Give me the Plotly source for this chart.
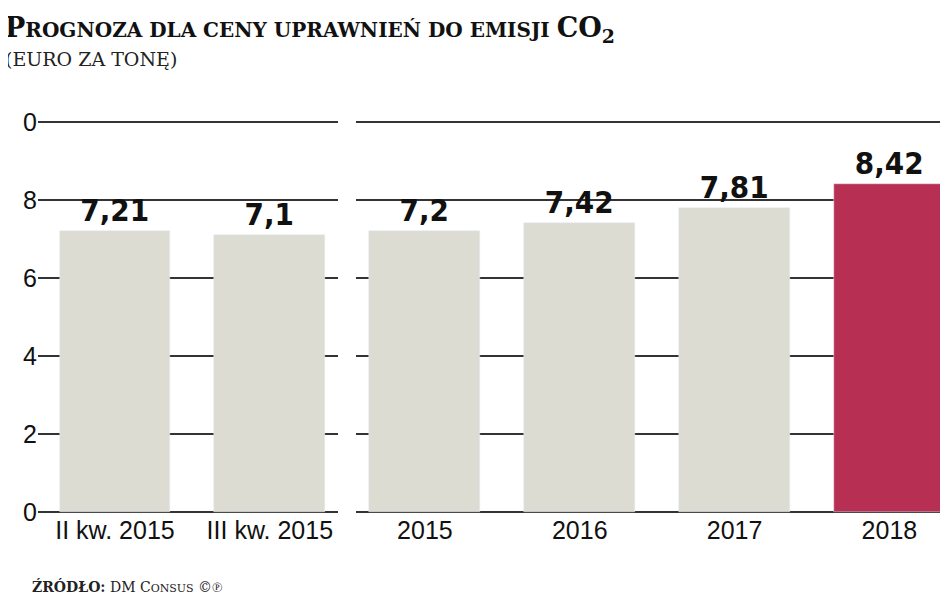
import plotly.graph_objects as go

W, H = 948, 593
cats_q = ["II kw. 2015", "III kw. 2015"]
vals_q = [7.21, 7.1]
cats_y = ["2015", "2016", "2017", "2018"]
vals_y = [7.2, 7.42, 7.81, 8.42]
colors_y = ["#dcdcd2", "#dcdcd2", "#dcdcd2", "#b72f52"]
yticks = [0, 2, 4, 6, 8, 10]

fig = go.Figure()
lblfont = dict(family="DejaVu Sans Condensed, DejaVu Sans", size=31, color="#111")
def fmt(v): return "<b>" + f"{v:g}".replace(".", ",") + "</b>"

fig.add_bar(x=list(range(len(cats_q))), y=vals_q, width=0.716, marker_color="#dcdcd2",
            text=[fmt(v) for v in vals_q], textposition="outside", textfont=lblfont,
            cliponaxis=False, xaxis="x", yaxis="y")
fig.add_bar(x=list(range(len(cats_y))), y=vals_y, width=0.716, marker_color=colors_y,
            text=[fmt(v) for v in vals_y], textposition="outside", textfont=lblfont,
            cliponaxis=False, xaxis="x2", yaxis="y2")

tickfont = dict(family="Liberation Sans Narrow, Liberation Sans", size=25, color="#111")
ydom = [88 / H, 480 / H]
yr = [-0.03, 10.03]
fig.update_layout(
    width=W, height=H, margin=dict(l=0, r=0, t=0, b=0, autoexpand=False),
    paper_bgcolor="white", plot_bgcolor="white", showlegend=False, bargap=0,
    xaxis=dict(domain=[30 / W, 330 / W], range=[-0.497, 1.44], tickvals=list(range(len(cats_q))),
               ticktext=cats_q, tickfont=tickfont, showgrid=False, zeroline=False, ticks="",
               automargin=False),
    xaxis2=dict(domain=[348 / W, 1], range=[-0.445, 3.43], tickvals=list(range(len(cats_y))),
                ticktext=cats_y, tickfont=tickfont, showgrid=False, zeroline=False, ticks="",
                automargin=False),
    yaxis=dict(domain=ydom, range=yr, tickvals=yticks, ticktext=[str(t)[-1] for t in yticks],
               tickfont=tickfont, gridcolor="#333", gridwidth=1.5, zeroline=False, anchor="x",
               automargin=False),
    yaxis2=dict(domain=ydom, range=yr, tickvals=yticks, showticklabels=False,
                gridcolor="#333", gridwidth=1.5, zeroline=False, anchor="x2", automargin=False),
)
serif = "DejaVu Serif"
fig.add_annotation(xref="paper", yref="paper", x=-0.005, y=1 - 2 / H, xanchor="left", yanchor="top",
                   showarrow=False, font=dict(family=serif, size=20, color="#111"),
                   text="<b><span style='font-size:27px'>P</span>ROGNOZA DLA CENY UPRAWNIEŃ DO EMISJI <span style='font-size:27px'>CO<sub>2</sub></span></b>")
fig.add_annotation(xref="paper", yref="paper", x=-0.005, y=1 - 38 / H, xanchor="left", yanchor="top",
                   showarrow=False, font=dict(family=serif, size=19, color="#222"),
                   text="(EURO ZA TONĘ)")
fig.add_annotation(xref="paper", yref="paper", x=22 / W, y=1 - 578 / H, xanchor="left", yanchor="middle",
                   showarrow=False, font=dict(family=serif, size=14, color="#222"),
                   text="<b>ŹRÓDŁO:</b> DM C<span style='font-size:11px'>ONSUS</span> ©℗")
fig.write_html("out.html")
